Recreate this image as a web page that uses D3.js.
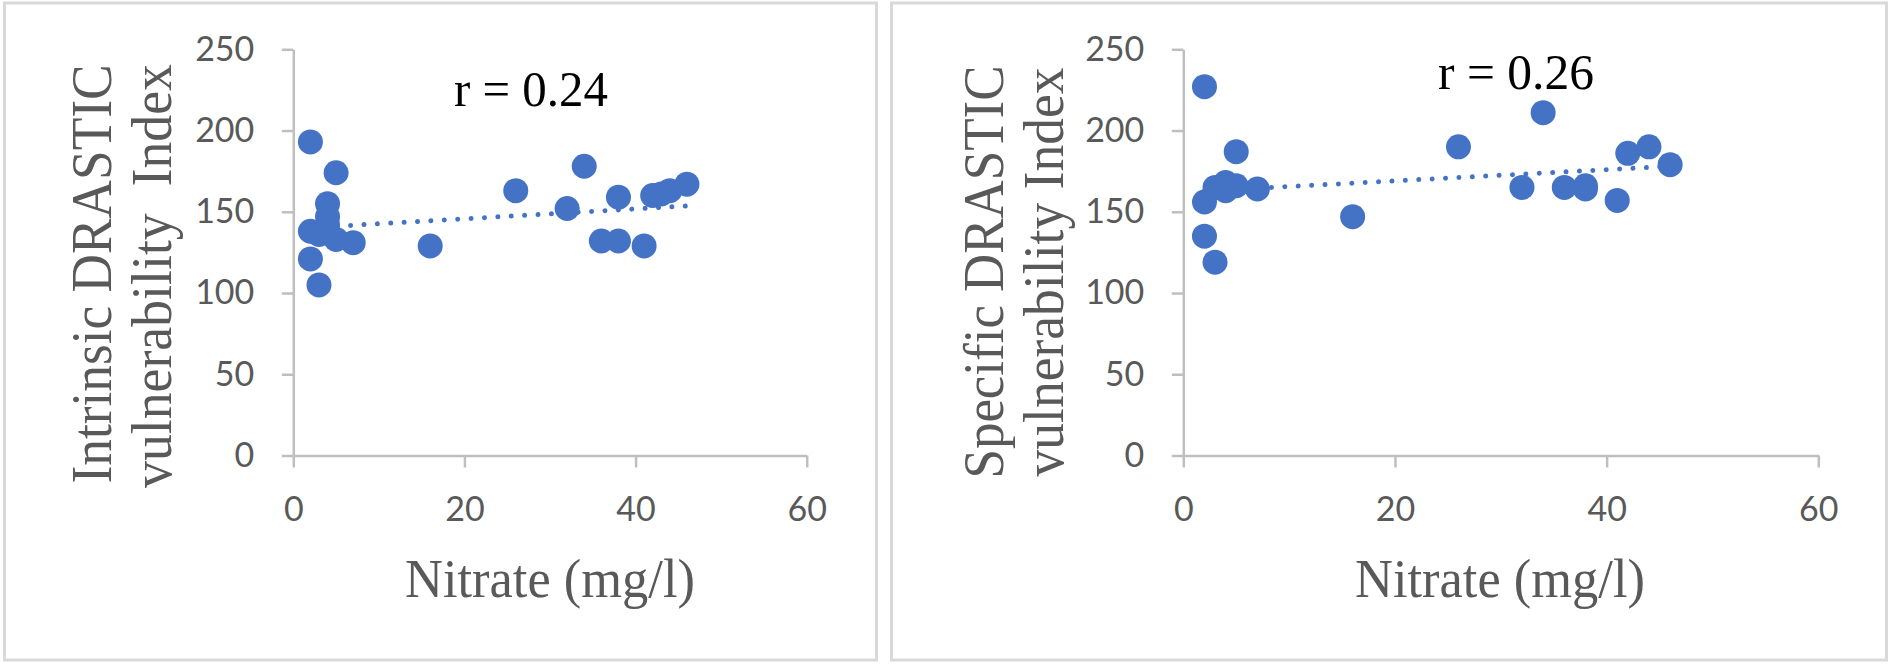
<!DOCTYPE html>
<html>
<head>
<meta charset="utf-8">
<script src="https://cdn.jsdelivr.net/npm/d3@7"></script>
<style>
  body { margin: 0; background: #fff; }
  svg text { white-space: pre; }
</style>
</head>
<body>
<svg id="chart" width="1889" height="665"></svg>
<script>
// axis ticks
const xTicks = [0, 20, 40, 60];
const yTicks = [0, 50, 100, 150, 200, 250];

// left panel: intrinsic DRASTIC index vs nitrate
const intrinsicNitrate = [2, 5, 4, 4, 4, 4, 2, 2, 3, 3, 5, 7, 16, 26, 32, 34, 36, 38, 38, 41, 42, 43, 44, 46];
const intrinsicIndex   = [193, 174, 155, 147, 142, 138, 138, 121, 105, 136, 133, 131, 129, 163, 152, 178, 132, 132, 159, 129, 160, 161, 163, 167];
const intrinsicTrend   = [[2, 140.2], [46, 153.6]];

// right panel: specific DRASTIC index vs nitrate
const specificNitrate = [2, 2, 2, 3, 3, 4, 4, 5, 5, 7, 16, 26, 32, 34, 36, 38, 38, 41, 42, 44, 46];
const specificIndex   = [227, 156, 135, 119, 165, 168, 163, 166, 187, 164, 147, 190, 165, 211, 165, 166, 164, 157, 186, 190, 179];
const specificTrend   = [[2, 162.8], [46, 178]];

const blue = "#4472C4";
const svg = d3.select("#chart");

function drawPanel(opt) {
    // panel frame
    svg.append("rect")
        .attr("x", opt.frame[0]).attr("y", opt.frame[1])
        .attr("width", opt.frame[2]).attr("height", opt.frame[3])
        .attr("fill", "#fff")
        .attr("stroke", "#d9d9d9")
        .attr("stroke-width", 3);

    const x = d3.scaleLinear().domain([0, 60]).range([opt.x0, opt.x1]);
    const y = d3.scaleLinear().domain([0, 250]).range([455.5, 49.3]);

    const yAxis = svg.append("g")
        .attr("transform", `translate(${opt.x0},0)`)
        .call(d3.axisLeft(y).tickValues(yTicks).tickSize(11.5).tickPadding(27.5).tickSizeOuter(0));
    const xAxis = svg.append("g")
        .attr("transform", "translate(0,455.5)")
        .call(d3.axisBottom(x).tickValues(xTicks).tickSize(12).tickPadding(29.5).tickSizeOuter(0));

    [xAxis, yAxis].forEach(function (g) {
        g.select(".domain").attr("stroke", "#bfbfbf").attr("stroke-width", 2.5);
        g.selectAll(".tick line").attr("stroke", "#bfbfbf").attr("stroke-width", 2.5);
        g.selectAll(".tick text")
            .attr("fill", "#595959")
            .style("font-family", "Lato, sans-serif")
            .style("font-size", "34px");
    });

    // trend line (dotted)
    svg.append("path")
        .datum(opt.trend)
        .attr("fill", "none")
        .attr("stroke", blue)
        .attr("stroke-width", 5)
        .attr("stroke-linecap", "round")
        .attr("stroke-dasharray", "0.01 13.4")
        .attr("d", d3.line().x(d => x(d[0])).y(d => y(d[1])));

    // points
    svg.append("g")
        .selectAll("circle")
        .data(d3.range(opt.xs.length))
        .join("circle")
        .attr("cx", i => x(opt.xs[i]))
        .attr("cy", i => y(opt.ys[i]))
        .attr("r", 12.5)
        .attr("fill", blue);

    // r value
    svg.append("text")
        .attr("x", opt.rPos[0]).attr("y", opt.rPos[1])
        .attr("textLength", opt.rLen).attr("lengthAdjust", "spacingAndGlyphs")
        .style("font-family", "'Liberation Serif', 'Times New Roman', serif")
        .style("font-size", "50px")
        .attr("fill", "#000")
        .text(opt.rText);

    // x title
    svg.append("text")
        .attr("x", opt.xTitle[0]).attr("y", opt.xTitle[1])
        .attr("textLength", 290).attr("lengthAdjust", "spacingAndGlyphs")
        .style("font-family", "'Liberation Serif', 'Times New Roman', serif")
        .style("font-size", "55px")
        .attr("fill", "#595959")
        .text("Nitrate (mg/l)");

    // y title, two rotated lines
    opt.yLines.forEach(function (ln) {
        svg.append("text")
            .attr("transform", `translate(${ln.bx},${ln.cy}) rotate(-90)`)
            .attr("x", -ln.len / 2)
            .attr("textLength", ln.len).attr("lengthAdjust", "spacingAndGlyphs")
            .style("font-family", "'Liberation Serif', 'Times New Roman', serif")
            .style("font-size", "57px")
            .attr("fill", "#595959")
            .text(ln.text);
    });
}

drawPanel({
    frame: [4.5, 3, 872, 657],
    x0: 293.3, x1: 806.7,
    xs: intrinsicNitrate, ys: intrinsicIndex, trend: intrinsicTrend,
    rText: "r = 0.24", rPos: [454, 106], rLen: 154,
    xTitle: [405, 597],
    yLines: [
        { text: "Intrinsic DRASTIC", bx: 111, cy: 274, len: 419 },
        { text: "vulnerability  Index", bx: 171, cy: 276, len: 424 }
    ]
});

drawPanel({
    frame: [891.5, 3, 995, 657],
    x0: 1183.3, x1: 1818.3,
    xs: specificNitrate, ys: specificIndex, trend: specificTrend,
    rText: "r = 0.26", rPos: [1438, 89], rLen: 156,
    xTitle: [1355, 597],
    yLines: [
        { text: "Specific DRASTIC", bx: 1003, cy: 272, len: 413 },
        { text: "vulnerability Index", bx: 1063, cy: 272, len: 409 }
    ]
});
</script>
</body>
</html>
